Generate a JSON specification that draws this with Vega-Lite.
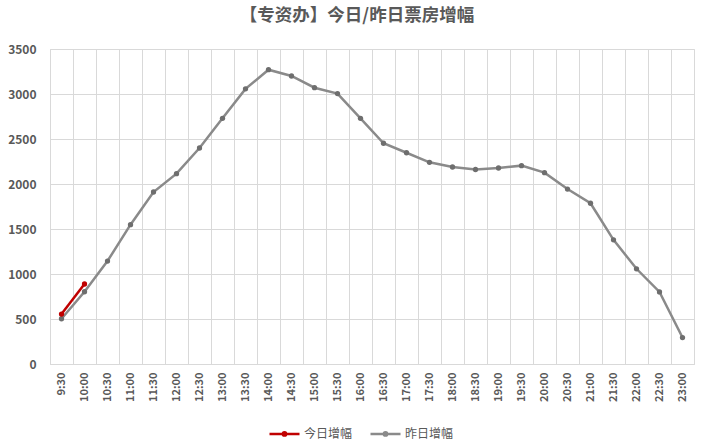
{
  "$schema": "https://vega.github.io/schema/vega-lite/v6.json",
  "width": 644,
  "height": 315,
  "autosize": {"type": "none"},
  "padding": {"left": 50, "top": 49, "right": 13, "bottom": 81},
  "background": "white",
  "config": {
    "font": "Noto Sans CJK SC",
    "view": {"stroke": "#d9d9d9"}
  },
  "title": {
    "text": "【专资办】今日/昨日票房增幅",
    "fontSize": 17.5,
    "fontWeight": "bold",
    "color": "#595959",
    "anchor": "middle",
    "frame": "group",
    "dx": -15,
    "offset": 19
  },
  "data": {
    "values": [
      {"time": "9:30", "series": "昨日增幅", "value": 503},
      {"time": "10:00", "series": "昨日增幅", "value": 803},
      {"time": "10:30", "series": "昨日增幅", "value": 1144},
      {"time": "11:00", "series": "昨日增幅", "value": 1548},
      {"time": "11:30", "series": "昨日增幅", "value": 1911},
      {"time": "12:00", "series": "昨日增幅", "value": 2115},
      {"time": "12:30", "series": "昨日增幅", "value": 2400},
      {"time": "13:00", "series": "昨日增幅", "value": 2730},
      {"time": "13:30", "series": "昨日增幅", "value": 3057},
      {"time": "14:00", "series": "昨日增幅", "value": 3270},
      {"time": "14:30", "series": "昨日增幅", "value": 3200},
      {"time": "15:00", "series": "昨日增幅", "value": 3070},
      {"time": "15:30", "series": "昨日增幅", "value": 3005},
      {"time": "16:00", "series": "昨日增幅", "value": 2730},
      {"time": "16:30", "series": "昨日增幅", "value": 2453},
      {"time": "17:00", "series": "昨日增幅", "value": 2347},
      {"time": "17:30", "series": "昨日增幅", "value": 2241},
      {"time": "18:00", "series": "昨日增幅", "value": 2189},
      {"time": "18:30", "series": "昨日增幅", "value": 2161},
      {"time": "19:00", "series": "昨日增幅", "value": 2178},
      {"time": "19:30", "series": "昨日增幅", "value": 2204},
      {"time": "20:00", "series": "昨日增幅", "value": 2126},
      {"time": "20:30", "series": "昨日增幅", "value": 1944},
      {"time": "21:00", "series": "昨日增幅", "value": 1786},
      {"time": "21:30", "series": "昨日增幅", "value": 1380},
      {"time": "22:00", "series": "昨日增幅", "value": 1058},
      {"time": "22:30", "series": "昨日增幅", "value": 801},
      {"time": "23:00", "series": "昨日增幅", "value": 294},
      {"time": "9:30", "series": "今日增幅", "value": 555},
      {"time": "10:00", "series": "今日增幅", "value": 889}
    ]
  },
  "encoding": {
    "x": {
      "field": "time",
      "type": "ordinal",
      "sort": null,
      "title": null,
      "scale": {"type": "band", "paddingInner": 0, "paddingOuter": 0},
      "axis": {
        "labelAngle": -90,
        "bandPosition": 0,
        "grid": true,
        "gridColor": "#d9d9d9",
        "ticks": false,
        "domainColor": "#d9d9d9",
        "labelPadding": 8,
        "labelFontSize": 11,
        "labelFontWeight": "bold",
        "labelColor": "#595959"
      }
    },
    "y": {
      "field": "value",
      "type": "quantitative",
      "title": null,
      "scale": {"domain": [0, 3500]},
      "axis": {
        "values": [0, 500, 1000, 1500, 2000, 2500, 3000, 3500],
        "format": "d",
        "grid": true,
        "gridColor": "#d9d9d9",
        "domain": false,
        "ticks": false,
        "labelPadding": 14,
        "labelFontSize": 12,
        "labelFontWeight": "bold",
        "labelColor": "#595959"
      }
    }
  },
  "layer": [
    {
      "transform": [{"filter": "datum.series === '昨日增幅'"}],
      "mark": {"type": "line", "strokeWidth": 2.5},
      "encoding": {
        "color": {
          "field": "series",
          "type": "nominal",
          "scale": {"domain": ["今日增幅", "昨日增幅"], "range": ["#c00000", "#8a8a8a"]},
          "legend": {
            "title": null,
            "orient": "none",
            "direction": "horizontal",
            "legendX": 218,
            "legendY": 368,
            "symbolType": "M-1,0H1M-0.11,0A0.11,0.11 0 1,0 0.11,0A0.11,0.11 0 1,0 -0.11,0Z",
            "symbolSize": 900,
            "symbolStrokeWidth": 2.5,
            "labelFontSize": 12,
            "labelColor": "#595959",
            "labelOffset": 3,
            "columnPadding": 12,
            "encode": {
              "symbols": {"update": {"fill": {"scale": "color", "field": "value"}}}
            }
          }
        }
      }
    },
    {
      "transform": [{"filter": "datum.series === '昨日增幅'"}],
      "mark": {"type": "point", "filled": true, "size": 28, "color": "#6e6e6e", "opacity": 1}
    },
    {
      "transform": [{"filter": "datum.series === '今日增幅'"}],
      "mark": {"type": "line", "strokeWidth": 2.5},
      "encoding": {
        "color": {"field": "series", "type": "nominal"}
      }
    },
    {
      "transform": [{"filter": "datum.series === '今日增幅'"}],
      "mark": {"type": "point", "filled": true, "size": 28, "color": "#c00000", "opacity": 1}
    }
  ]
}
